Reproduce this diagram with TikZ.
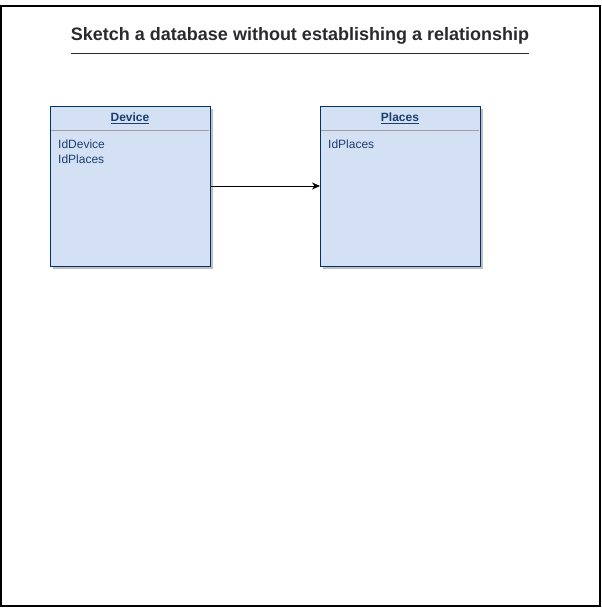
\documentclass[tikz,border=0pt]{standalone}
\usepackage{fontspec}
\setmainfont{Liberation Sans}
\usetikzlibrary{arrows.meta}
\definecolor{boxfill}{HTML}{D4E1F5}
\definecolor{boxline}{HTML}{003366}
\definecolor{boxtext}{HTML}{1A3F6F}
\definecolor{sepline}{HTML}{A0A0A0}
\definecolor{titletext}{HTML}{2A2A2E}
\tikzset{
  entity/.style={draw=boxline, fill=boxfill, line width=1pt, minimum width=160pt, minimum height=160pt, inner sep=0pt, anchor=north west},
  shadowbox/.style={fill=black!25, draw=none, minimum width=160pt, minimum height=160pt, inner sep=0pt, anchor=north west},
  header/.style={font=\fontsize{12}{14}\selectfont\bfseries, text=boxtext, anchor=center, inner sep=0pt},
  field/.style={font=\fontsize{12}{15}\selectfont, text=boxtext, anchor=north west, inner sep=0pt, align=left},
  conn/.style={draw=black, line width=1pt, -{Stealth[length=8pt,width=7pt]}}
}
\begin{document}
\begin{tikzpicture}[x=1pt, y=-1pt]
\useasboundingbox (0,0) rectangle (602,608);
\draw[line width=1.5pt] (1,6) rectangle (600,606);
% title
\node[font=\fontsize{18}{21}\selectfont\bfseries, text=titletext, inner sep=0pt] (title) at (300,36) {Sketch a database without establishing a relationship};
\draw[line width=1pt, titletext] (71,53) -- (529,53);
% shadows
\node[shadowbox] (devsh) at (53,109) {};
\node[shadowbox] (plash) at (323,109) {};
% entities
\node[entity] (device) at (50,106) {};
\node[entity] (places) at (320,106) {};
\draw[sepline, line width=1pt] (51,130) -- (209,130);
\draw[sepline, line width=1pt] (321,130) -- (479,130);
\node[header] (devh) at (130,118) {\underline{Device}};
\node[header] (plah) at (400,118) {\underline{Places}};
\node[field] (devf) at (58,140) {IdDevice\\IdPlaces};
\node[field] (plaf) at (328,140) {IdPlaces};
\draw[conn] (device.east |- 0,186) -- (places.west |- 0,186);
\end{tikzpicture}
\end{document}
